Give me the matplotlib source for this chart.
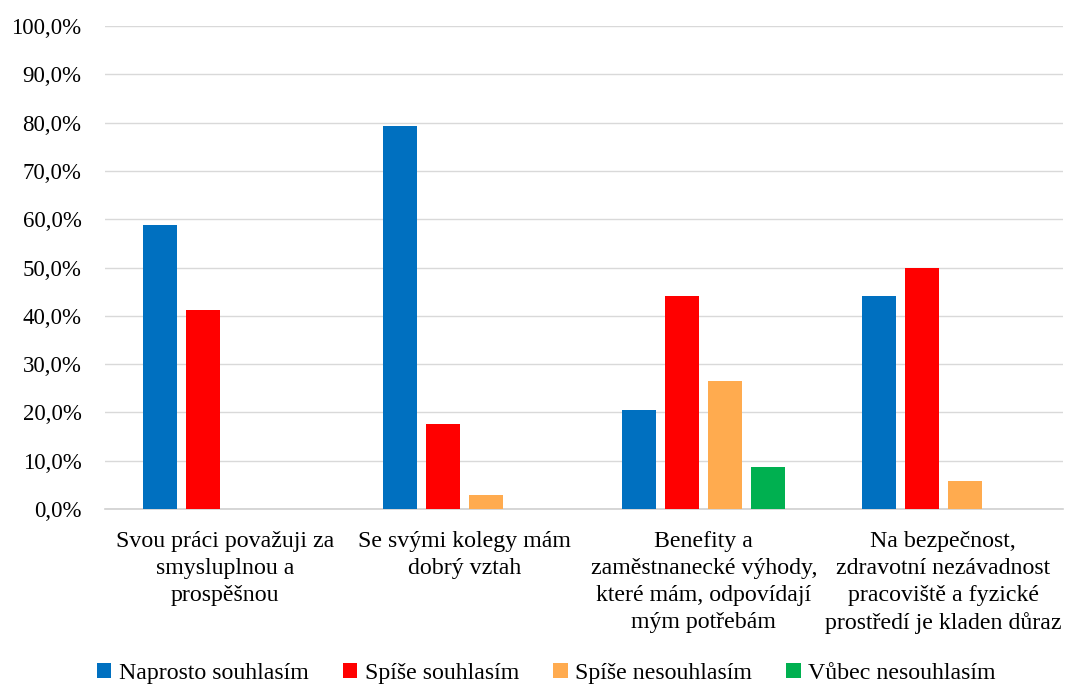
import matplotlib
matplotlib.use("Agg")
import matplotlib.pyplot as plt
from matplotlib.patches import Patch
from matplotlib.ticker import FuncFormatter
import numpy as np

plt.rcParams['font.family'] = ['Liberation Serif', 'DejaVu Serif']

categories = [
    "Svou práci považuji za\nsmysluplnou a\nprospěšnou",
    "Se svými kolegy mám\ndobrý vztah",
    "Benefity a\nzaměstnanecké výhody,\nkteré mám, odpovídají\nmým potřebám",
    "Na bezpečnost,\nzdravotní nezávadnost\npracoviště a fyzické\nprostředí je kladen důraz",
]
series_names = ["Naprosto souhlasím", "Spíše souhlasím", "Spíše nesouhlasím", "Vůbec nesouhlasím"]
naprosto = [58.8, 79.4, 20.6, 44.1]
spise = [41.2, 17.6, 44.1, 50.0]
spise_ne = [0.0, 2.9, 26.5, 5.9]
vubec = [0.0, 0.0, 8.8, 0.0]
colors = ["#0070C0", "#FF0000", "#FFAB4F", "#00B050"]
y_ticks = [0, 10, 20, 30, 40, 50, 60, 70, 80, 90, 100]

fig = plt.figure(figsize=(10.67, 6.84), dpi=100)
ax = fig.add_axes([0.0984, 0.2558, 0.8979, 0.7061])

x = np.arange(len(categories))
width = 0.142
step = 0.18
for i, (vals, col) in enumerate(zip([naprosto, spise, spise_ne, vubec], colors)):
    ax.bar(x + (i - 1.5) * step, vals, width, color=col, zorder=3)

ax.set_xlim(-0.5, len(categories) - 0.5)
ax.set_ylim(0, 100)
ax.set_yticks(y_ticks)
ax.yaxis.set_major_formatter(FuncFormatter(lambda v, p: f"{v:.1f}%".replace(".", ",")))
ax.set_xticks(x)
ax.set_xticklabels(categories, linespacing=1.36, fontsize=17.2)
ax.tick_params(axis='both', length=0)
ax.tick_params(axis='y', labelsize=16.5, pad=17)
ax.tick_params(axis='x', pad=16)
ax.grid(axis='y', color='#D9D9D9', linewidth=1.0, zorder=0)
for s in ['top', 'right', 'left']:
    ax.spines[s].set_visible(False)
ax.spines['bottom'].set_color('#D0D0D0')
ax.spines['bottom'].set_linewidth(1.2)

handles = [Patch(facecolor=c, edgecolor='none') for c in colors]
fig.legend(handles, series_names, loc='center', bbox_to_anchor=(0.512, 0.015), ncol=4,
           frameon=False, fontsize=17.2, handlelength=0.6, handleheight=0.6,
           handletextpad=0.3, columnspacing=1.45, borderaxespad=0)

fig.savefig("out.png", dpi=100)
